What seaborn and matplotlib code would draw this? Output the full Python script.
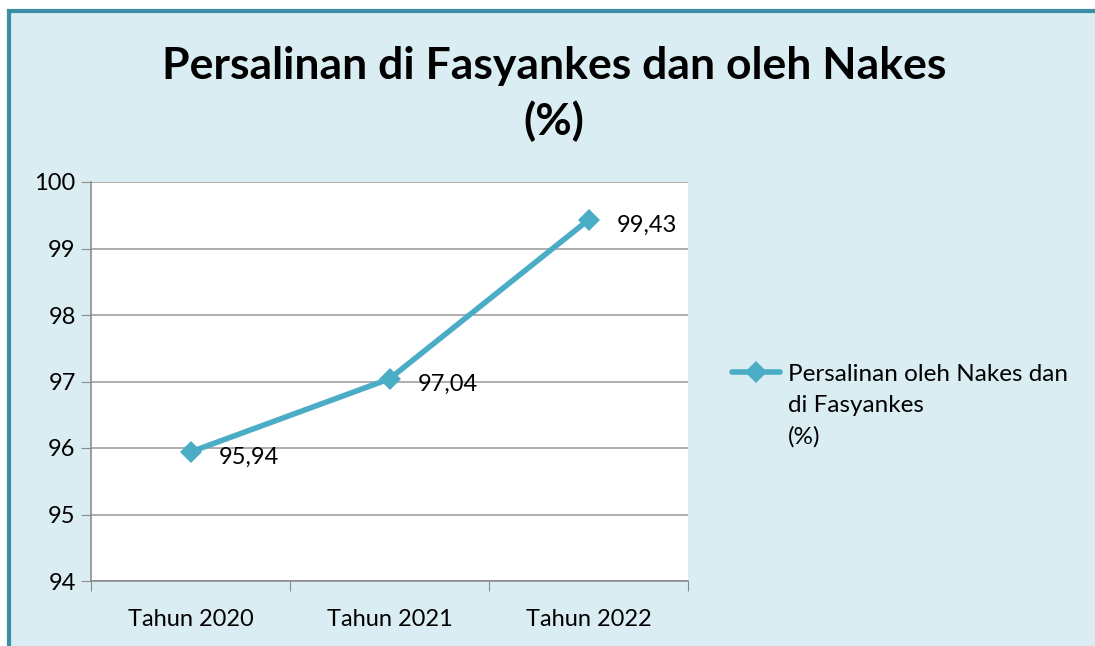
import matplotlib
matplotlib.use("Agg")
import matplotlib.pyplot as plt
from matplotlib.patches import Rectangle
from matplotlib.ticker import FixedLocator
import seaborn as sns
import pandas as pd

###
### data
###
tahun = ["Tahun 2020", "Tahun 2021", "Tahun 2022"]
persen = [95.94, 97.04, 99.43]
label_data = ["95,94", "97,04", "99,43"]
judul = "Persalinan di Fasyankes dan oleh Nakes\n(%)"
nama_seri = "Persalinan oleh Nakes dan\ndi Fasyankes\n(%)"

df = pd.DataFrame({"tahun": tahun, "persen": persen})

sns.set_style("white")
plt.rcParams["font.family"] = ["Lato", "DejaVu Sans"]
plt.rcParams["text.color"] = "black"
plt.rcParams["xtick.color"] = "black"
plt.rcParams["ytick.color"] = "black"

W, H = 1095, 646
fig = plt.figure(figsize=(W / 100, H / 100), dpi=100)
fig.patch.set_facecolor("white")

# bingkai biru muda
fig.patches.append(Rectangle((9 / W, -0.1), 1.2, 1.1 - 11 / H, transform=fig.transFigure,
                             facecolor="#daedf3", edgecolor="#3a8ea5", linewidth=3, zorder=-10))

ax = fig.add_axes([91 / W, 1 - 581 / H, (688 - 91) / W, (581 - 182) / H])
ax.set_facecolor("white")

biru = "#4bacc6"
sns.lineplot(data=df, x="tahun", y="persen", ax=ax, color=biru, linewidth=4,
             marker="D", markersize=11, markeredgewidth=0, sort=False,
             label=nama_seri, zorder=3)

for i, (v, t) in enumerate(zip(persen, label_data)):
    ax.annotate(t, (i, v), xytext=(20, -4), textcoords="offset points",
                ha="left", va="center", fontsize=17, color="black")

ax.set_ylim(94, 100)
ax.set_yticks(range(94, 101))
ax.set_xlim(-0.5, 2.5)
ax.xaxis.set_major_locator(FixedLocator([-0.5, 0.5, 1.5, 2.5]))
ax.xaxis.set_minor_locator(FixedLocator([0, 1, 2]))
ax.set_xticklabels([], minor=False)
ax.set_xticklabels(tahun, minor=True)
ax.tick_params(axis="x", which="major", length=7, color="#8c8c8c", direction="out", bottom=True)
ax.tick_params(axis="x", which="minor", length=0, labelsize=17, pad=20, labelcolor="black")
ax.tick_params(axis="y", length=7, color="#8c8c8c", direction="out", left=True,
               labelsize=17, pad=4, labelcolor="black")
ax.set_xlabel("")
ax.set_ylabel("")
ax.grid(axis="y", color="#a0a0a0", linewidth=1.2)
ax.set_axisbelow(True)
for s in ["top", "right"]:
    ax.spines[s].set_visible(False)
for s in ["left", "bottom"]:
    ax.spines[s].set_color("#8c8c8c")
    ax.spines[s].set_linewidth(1.2)

leg = ax.legend(loc="upper left", bbox_to_anchor=(722 / W, 1 - 354 / H),
                bbox_transform=fig.transFigure, frameon=False, fontsize=17.5,
                handlelength=2.0, handletextpad=0.3, borderaxespad=0)
for t in leg.get_texts():
    t.set_color("black")
    t.set_linespacing(1.6)
# garis legenda sejajar baris pertama
for kol in leg._legend_handle_box.get_children():
    for baris in kol.get_children():
        baris.align = "top"

fig.text(554 / W, 1 - 94 / H, judul, ha="center", va="center", fontsize=32,
         fontweight="bold", linespacing=1.4, color="black")

fig.savefig("out.png", dpi=100)
